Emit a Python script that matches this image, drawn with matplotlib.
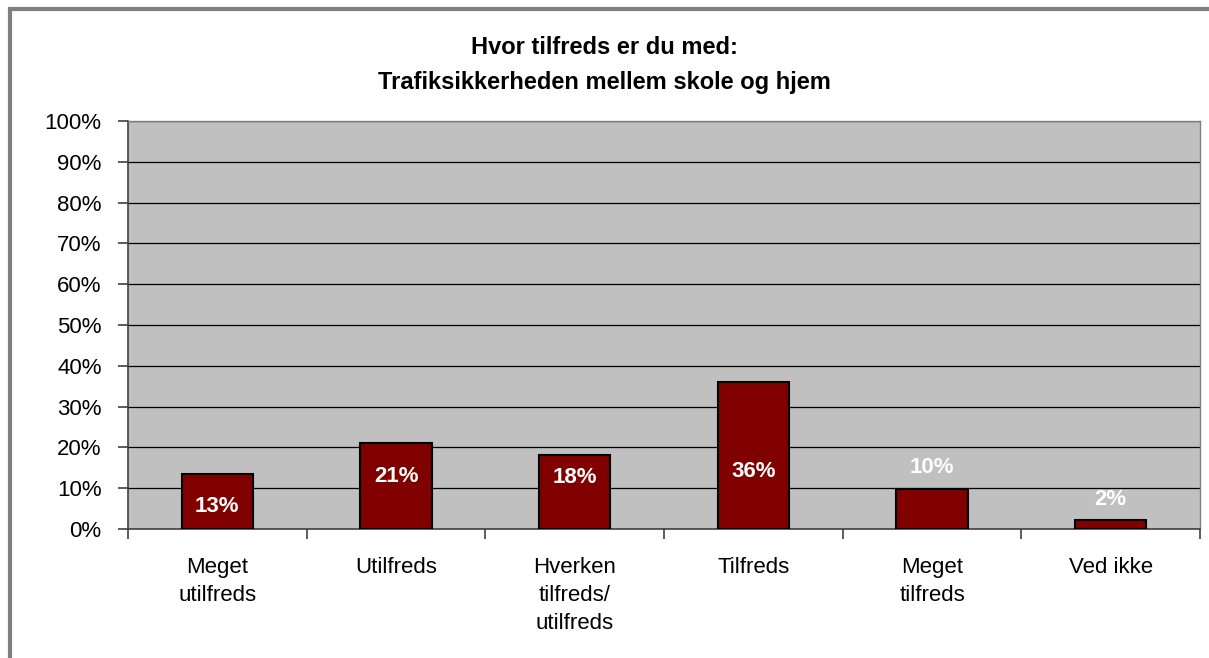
from matplotlib import pyplot as plt
from matplotlib.patches import Rectangle
import numpy as np

# Data
categories = ["Meget\nutilfreds", "Utilfreds", "Hverken\ntilfreds/\nutilfreds",
              "Tilfreds", "Meget\ntilfreds", "Ved ikke"]
values = [13.4, 21.2, 18.2, 36.0, 9.9, 2.1]
value_labels = ["13%", "21%", "18%", "36%", "10%", "2%"]
yticks = [0, 10, 20, 30, 40, 50, 60, 70, 80, 90, 100]
ytick_labels = [f"{t}%" for t in yticks]
title1 = "Hvor tilfreds er du med:"
title2 = "Trafiksikkerheden mellem skole og hjem"

plt.rcParams['font.family'] = ['Liberation Sans', 'DejaVu Sans']

fig = plt.figure(figsize=(12.09, 6.58), dpi=100)
ax = fig.add_axes([0.1059, 0.196, 0.8867, 0.620])

x = np.arange(len(categories))
ax.set_facecolor("#C0C0C0")
ax.bar(x, values, width=0.4, color="#800000", edgecolor="black", linewidth=1.5, zorder=3)

# labels - excel put them at odd heights, follow the picture
label_y = [5.6, 12.9, 12.6, 14.1, 15.0, 7.2]
for xi, lab, ly in zip(x, value_labels, label_y):
    ax.text(xi, ly, lab, ha="center", va="center", color="white",
            fontsize=16, fontweight="bold", zorder=4)

ax.set_xlim(-0.5, len(categories) - 0.5)
ax.set_ylim(0, 100)
ax.set_yticks(yticks)
ax.set_yticklabels(ytick_labels, fontsize=16)
ax.yaxis.grid(True, color="black", linewidth=0.9, zorder=1)
ax.set_axisbelow(True)

ax.set_xticks(x)
ax.set_xticklabels(categories, fontsize=16, va="top", linespacing=1.45)
ax.tick_params(axis="x", length=0, pad=20)
ax.set_xticks(np.arange(len(categories) + 1) - 0.5, minor=True)
ax.tick_params(axis="x", which="minor", length=7, color="#404040", width=1.2)
ax.tick_params(axis="y", length=7, color="#404040", width=1.2, pad=12)

for s in ["top", "right"]:
    ax.spines[s].set_color("#808080")
    ax.spines[s].set_linewidth(1)
for s in ["left", "bottom"]:
    ax.spines[s].set_color("#404040")
    ax.spines[s].set_linewidth(1.2)

fig.text(0.5, 1 - 47 / 658, title1, ha="center", va="center", fontsize=17, fontweight="bold")
fig.text(0.5, 1 - 82 / 658, title2, ha="center", va="center", fontsize=17, fontweight="bold")

# outer frame of the chart
fig.patches.append(Rectangle((9.5 / 1209, -0.1), 1.2, 1.1 - 9.5 / 658,
                             transform=fig.transFigure, fill=False,
                             edgecolor="#808080", linewidth=3))

fig.savefig("out.png", dpi=100)
